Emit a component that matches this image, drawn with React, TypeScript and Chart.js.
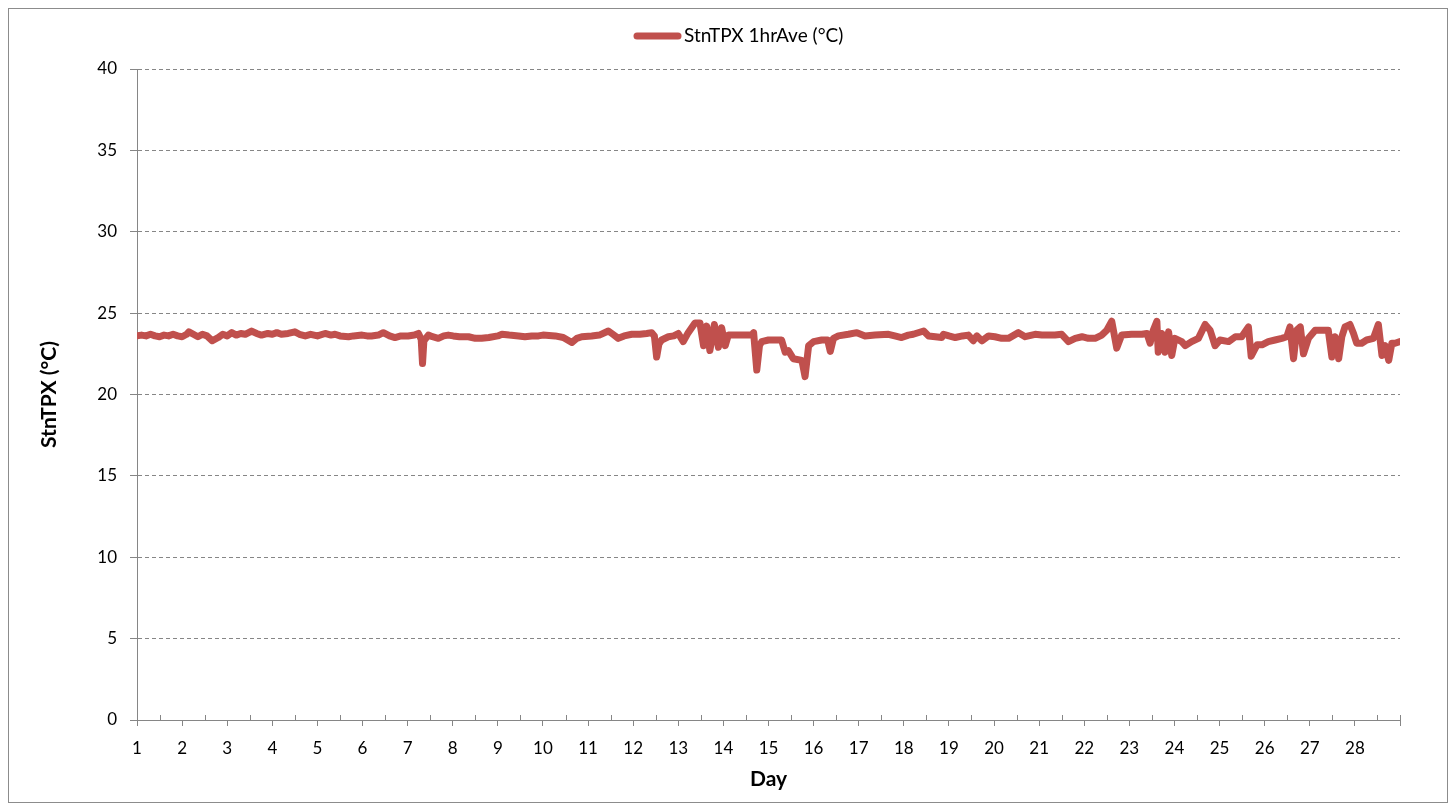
import React, { useEffect, useRef } from "react";
import { Chart, registerables } from "chart.js";

Chart.register(...registerables);

const seriesLabel = "StnTPX 1hrAve (°C)";
const yTitle = "StnTPX (°C)";
const xTitle = "Day";

const days: number[] = [
  1.0, 1.1, 1.2, 1.3, 1.4, 1.5, 1.6, 1.7, 1.8, 1.9, 2.0, 2.1, 2.15, 2.25, 2.35, 2.45, 2.55, 2.67, 2.8, 2.9,
  3.0, 3.1, 3.2, 3.3, 3.4, 3.54, 3.65, 3.76, 3.9, 4.0, 4.1, 4.2, 4.35, 4.5, 4.6, 4.73, 4.85, 5.0, 5.17, 5.3,
  5.39, 5.5, 5.69, 5.8, 5.99, 6.1, 6.2, 6.35, 6.46, 6.6, 6.72, 6.85, 7.01, 7.15, 7.24, 7.3, 7.33, 7.36, 7.46, 7.55,
  7.68, 7.8, 7.9, 8.01, 8.15, 8.35, 8.5, 8.64, 8.8, 9.0, 9.09, 9.25, 9.46, 9.6, 9.75, 9.9, 10.0,
  10.27, 10.45, 10.64, 10.75, 10.86, 11.08, 11.25, 11.45, 11.55, 11.67, 11.8, 11.97, 12.15, 12.3, 12.41, 12.47, 12.52, 12.57, 12.63, 12.78,
  12.9, 13.0, 13.11, 13.22, 13.37, 13.48, 13.56, 13.63, 13.7, 13.8, 13.89, 13.96, 14.04, 14.11, 14.41, 14.63, 14.67, 14.74, 14.8, 14.85,
  15.0, 15.15, 15.29, 15.37, 15.44, 15.55, 15.74, 15.81, 15.89, 16.0, 16.18, 16.31, 16.37, 16.44, 16.55, 16.77, 16.96, 17.14, 17.36, 17.66,
  17.8, 17.95, 18.1, 18.21, 18.44, 18.55, 18.7, 18.84, 18.88, 19.0, 19.14, 19.3, 19.43, 19.54, 19.62,
  19.73, 19.88, 20.02, 20.17, 20.32, 20.54, 20.69, 20.91, 21.06, 21.35, 21.5, 21.65, 21.8, 21.95, 22.09, 22.24, 22.39, 22.5, 22.61, 22.72,
  22.83, 23.05, 23.28, 23.39, 23.46, 23.53, 23.61, 23.64, 23.72, 23.79, 23.87, 23.94, 24.01, 24.16, 24.24, 24.38, 24.53, 24.68, 24.79, 24.9,
  25.01, 25.2, 25.35, 25.49, 25.64, 25.7, 25.83, 25.94, 26.08, 26.23, 26.38, 26.49, 26.56, 26.64, 26.71, 26.79, 26.86, 26.97, 27.12, 27.41,
  27.49, 27.56, 27.64, 27.71, 27.78, 27.89, 27.97, 28.04, 28.15, 28.26, 28.41, 28.52, 28.6, 28.67, 28.75, 28.82, 28.89, 29.0,
];

const temps: number[] = [
  23.6, 23.65, 23.6, 23.7, 23.6, 23.55, 23.65, 23.6, 23.7, 23.6, 23.55, 23.7, 23.85, 23.7, 23.55, 23.7, 23.6, 23.3, 23.5, 23.7,
  23.6, 23.8, 23.65, 23.75, 23.7, 23.9, 23.75, 23.65, 23.75, 23.7, 23.8, 23.7, 23.75, 23.85, 23.7, 23.6, 23.7, 23.6, 23.75, 23.65,
  23.7, 23.6, 23.55, 23.6, 23.65, 23.6, 23.6, 23.65, 23.8, 23.6, 23.5, 23.6, 23.6, 23.65, 23.75, 23.4, 21.9, 23.3, 23.65, 23.55,
  23.45, 23.6, 23.65, 23.6, 23.55, 23.55, 23.45, 23.45, 23.5, 23.6, 23.7, 23.65, 23.6, 23.55, 23.6, 23.6, 23.65,
  23.6, 23.5, 23.2, 23.45, 23.55, 23.6, 23.65, 23.9, 23.7, 23.45, 23.6, 23.7, 23.7, 23.75, 23.8, 23.6, 22.3, 23.1, 23.35, 23.55,
  23.6, 23.75, 23.25, 23.8, 24.4, 24.4, 23.0, 24.2, 22.7, 24.3, 22.9, 24.1, 23.0, 23.65, 23.65, 23.65, 23.8, 21.5, 23.0, 23.25,
  23.35, 23.35, 23.35, 22.6, 22.7, 22.2, 22.1, 21.1, 23.0, 23.25, 23.35, 23.35, 22.65, 23.45, 23.6, 23.7, 23.8, 23.6, 23.65, 23.7,
  23.6, 23.5, 23.65, 23.7, 23.9, 23.6, 23.55, 23.5, 23.7, 23.6, 23.5, 23.6, 23.65, 23.3, 23.6,
  23.3, 23.6, 23.55, 23.45, 23.45, 23.8, 23.55, 23.7, 23.65, 23.65, 23.7, 23.25, 23.45, 23.55, 23.45, 23.45, 23.65, 23.95, 24.5, 22.85,
  23.65, 23.7, 23.7, 23.75, 23.15, 23.95, 24.5, 22.6, 23.75, 22.6, 23.85, 22.4, 23.45, 23.25, 23.0, 23.25, 23.45, 24.3, 23.95, 23.0,
  23.35, 23.25, 23.55, 23.55, 24.15, 22.35, 23.05, 23.05, 23.25, 23.35, 23.45, 23.55, 24.15, 22.2, 23.95, 24.15, 22.5, 23.45, 23.95, 23.95,
  22.3, 23.55, 22.2, 23.55, 24.15, 24.3, 23.75, 23.15, 23.15, 23.35, 23.45, 24.3, 22.4, 23.0, 22.1, 23.15, 23.15, 23.25,
];

const xMin = 1;
const xMax = 29;
const lastLabeledDay = 28;
const yMin = 0;
const yMax = 40;
const yStep = 5;

const lineColor = "#C0504D";
const axisColor = "#868686";
const fontFamily = "Lato, 'Open Sans', sans-serif";

const minorTicksPlugin = {
  id: "minorTicks",
  afterDraw(chart: any) {
    const xs = chart.scales.x;
    const ctx = chart.ctx;
    const bottom = chart.chartArea.bottom;
    ctx.save();
    ctx.strokeStyle = axisColor;
    ctx.lineWidth = 1;
    ctx.beginPath();
    for (let v = xMin + 0.5; v < xMax; v += 1) {
      const px = Math.round(xs.getPixelForValue(v)) + 0.5;
      ctx.moveTo(px, bottom);
      ctx.lineTo(px, bottom - 5);
    }
    const endPx = Math.round(xs.getPixelForValue(xMax)) + 0.5;
    ctx.moveTo(endPx, bottom);
    ctx.lineTo(endPx, bottom - 5);
    ctx.stroke();
    ctx.restore();
  },
};

const legendPlugin = {
  id: "customLegend",
  afterDraw(chart: any) {
    const ctx = chart.ctx;
    ctx.save();
    ctx.font = `19px ${fontFamily}`;
    const lineW = 47;
    const gap = 3;
    const startX = 625;
    const y = 27;
    ctx.strokeStyle = lineColor;
    ctx.lineWidth = 7;
    ctx.lineCap = "round";
    ctx.beginPath();
    ctx.moveTo(startX + 3, y);
    ctx.lineTo(startX + lineW - 3, y);
    ctx.stroke();
    ctx.fillStyle = "#000";
    ctx.textBaseline = "middle";
    ctx.textAlign = "left";
    ctx.fillText(seriesLabel, startX + lineW + gap, y);
    ctx.restore();
  },
};

export default function App() {
  const canvasRef = useRef<HTMLCanvasElement | null>(null);

  useEffect(() => {
    if (!canvasRef.current) return;
    const data = days.map((d, i) => ({ x: d, y: temps[i] }));
    const chart = new Chart(canvasRef.current, {
      type: "line",
      data: {
        datasets: [
          {
            label: seriesLabel,
            data,
            borderColor: lineColor,
            backgroundColor: lineColor,
            borderWidth: 7,
            pointRadius: 0,
            tension: 0,
            borderJoinStyle: "round",
            borderCapStyle: "round",
          },
        ],
      },
      options: {
        responsive: false,
        animation: false,
        layout: { padding: { left: 24, right: 47, top: 60, bottom: 6 } },
        plugins: {
          legend: { display: false },
          tooltip: { enabled: false },
        },
        scales: {
          x: {
            type: "linear",
            min: xMin,
            max: xMax,
            afterFit: (s: any) => {
              s.height = 76;
            },
            ticks: {
              stepSize: 1,
              autoSkip: false,
              maxRotation: 0,
              padding: 12,
              color: "#000",
              font: { family: fontFamily, size: 17 },
              callback: (v: any) => (Number(v) <= lastLabeledDay ? String(v) : ""),
            },
            grid: {
              drawOnChartArea: false,
              drawTicks: true,
              tickLength: 6,
              color: axisColor,
            },
            border: { display: true, color: axisColor, width: 1 },
            title: {
              display: true,
              text: xTitle,
              color: "#000",
              font: { family: fontFamily, size: 21, weight: "bold" },
            },
          },
          y: {
            min: yMin,
            max: yMax,
            afterFit: (s: any) => {
              s.width = 104;
            },
            ticks: {
              stepSize: yStep,
              padding: 13,
              color: "#000",
              font: { family: fontFamily, size: 17 },
            },
            grid: {
              color: axisColor,
              tickLength: 7,
              tickBorderDash: [],
            },
            border: { display: true, color: axisColor, width: 1, dash: [4, 3] },
            title: {
              display: true,
              text: yTitle,
              color: "#000",
              font: { family: fontFamily, size: 21, weight: "bold" },
            },
          },
        },
      },
      plugins: [minorTicksPlugin, legendPlugin],
    } as any);
    return () => chart.destroy();
  }, []);

  return (
    <div
      style={{
        width: 1440,
        height: 795,
        border: "1px solid #8c8c8c",
        boxSizing: "border-box",
        overflow: "hidden",
      }}
    >
      <canvas ref={canvasRef} width={1438} height={793} style={{ display: "block", width: 1438, height: 793 }} />
    </div>
  );
}
